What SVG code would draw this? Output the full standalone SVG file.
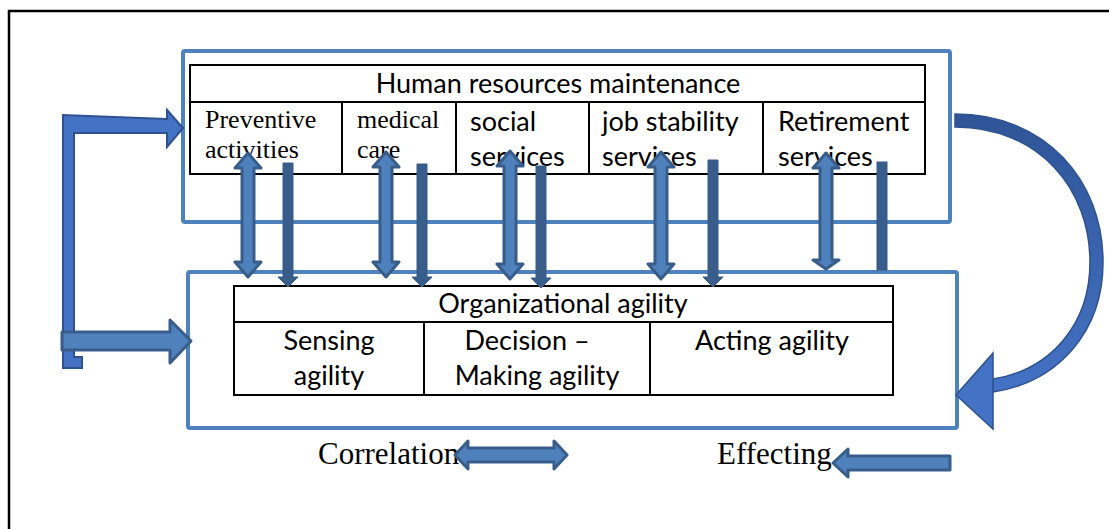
<svg xmlns="http://www.w3.org/2000/svg" width="1109" height="529" viewBox="0 0 1109 529">
<defs>
<linearGradient id="curveGrad" x1="0" y1="0" x2="0" y2="1">
<stop offset="0" stop-color="#2F5597"/>
<stop offset="1" stop-color="#4472C4"/>
</linearGradient>
<style>
.frame{fill:none;stroke:#000;stroke-width:2.5}
.bluebox{fill:#fff;stroke:#4F81BD;stroke-width:4}
.tbl{fill:#fff;stroke:#000;stroke-width:2}
.tline{stroke:#000;stroke-width:2}
.sans{font-family:Lato,"Liberation Sans",sans-serif;font-size:27px;fill:#000}
.serif{font-family:"Liberation Serif","Times New Roman",serif;font-size:26px;fill:#000}
.serifL{font-family:"Liberation Serif","Times New Roman",serif;font-size:31px;fill:#000}
.dbl{fill:#4F81BD;stroke:#385D8A;stroke-width:3;stroke-linejoin:round}
.sgl{fill:#385D8A;stroke:#385D8A;stroke-width:1}
.bent{fill:#4472C4;stroke:#2F528F;stroke-width:2;stroke-linejoin:miter}
.blk{fill:#4F81BD;stroke:#385D8A;stroke-width:3;stroke-linejoin:round}
.curve{fill:url(#curveGrad);stroke:#2F528F;stroke-width:1.5}
.head{fill:#4472C4;stroke:#2F528F;stroke-width:1.5}
</style>
</defs>
<rect class="frame" x="9" y="11" width="1120" height="540"/>

<g id="hr-maintenance">
<rect class="bluebox" x="183" y="51" width="767" height="171" rx="2"/>
<rect class="tbl" x="190" y="65" width="735" height="109"/>
<line class="tline" x1="190" y1="102" x2="925" y2="102"/>
<line class="tline" x1="342" y1="102" x2="342" y2="174"/>
<line class="tline" x1="456" y1="102" x2="456" y2="174"/>
<line class="tline" x1="589" y1="102" x2="589" y2="174"/>
<line class="tline" x1="763" y1="102" x2="763" y2="174"/>
<text class="sans" x="558" y="93" text-anchor="middle">Human resources maintenance</text>
<text class="serif" x="205" y="128">Preventive</text>
<text class="serif" x="205" y="158">activities</text>
<text class="serif" x="357" y="128">medical</text>
<text class="serif" x="357" y="158">care</text>
<text class="sans" x="470" y="131">social</text>
<text class="sans" x="470" y="166">services</text>
<text class="sans" x="602" y="131">job stability</text>
<text class="sans" x="602" y="166">services</text>
<text class="sans" x="778" y="131">Retirement</text>
<text class="sans" x="778" y="166">services</text>
</g>

<g id="org-agility">
<rect class="bluebox" x="188" y="272" width="769" height="156" rx="2"/>
<rect class="tbl" x="234" y="286" width="659" height="109"/>
<line class="tline" x1="234" y1="322" x2="893" y2="322"/>
<line class="tline" x1="424" y1="322" x2="424" y2="395"/>
<line class="tline" x1="650" y1="322" x2="650" y2="395"/>
<text class="sans" x="563" y="313" text-anchor="middle">Organizational agility</text>
<text class="sans" x="329" y="350" text-anchor="middle">Sensing</text>
<text class="sans" x="329" y="385" text-anchor="middle">agility</text>
<text class="sans" x="527" y="350" text-anchor="middle">Decision –</text>
<text class="sans" x="537" y="385" text-anchor="middle">Making agility</text>
<text class="sans" x="772" y="350" text-anchor="middle">Acting agility</text>
</g>

<g id="legend">
<text class="serifL" x="318" y="464">Correlation</text>
<text class="serifL" x="717" y="464">Effecting</text>
</g>

<g id="connectors">
<!-- double-headed vertical arrows -->
<polygon class="dbl" points="248,153 261,168 254,168 254,262 261,262 248,277 235,262 242,262 242,168 235,168"/>
<polygon class="dbl" points="386,152 399,167 392,167 392,262 399,262 386,277 373,262 380,262 380,167 373,167"/>
<polygon class="dbl" points="510,151 523,166 516,166 516,264 523,264 510,279 497,264 504,264 504,166 497,166"/>
<polygon class="dbl" points="661,152 674,167 667,167 667,264 674,264 661,279 648,264 655,264 655,167 648,167"/>
<polygon class="dbl" points="826,153 839,168 832,168 832,260 839,260 826,269 813,260 820,260 820,168 813,168"/>
<!-- single down arrows -->
<polygon class="sgl" points="283,163 293,163 293,277 298,277 288,287 278,277 283,277"/>
<polygon class="sgl" points="417,164 427,164 427,277 432,277 422,287 412,277 417,277"/>
<polygon class="sgl" points="536,166 546,166 546,278 551,278 541,288 531,278 536,278"/>
<polygon class="sgl" points="708,160 718,160 718,277 723,277 713,287 703,277 708,277"/>
<rect class="sgl" x="877" y="162" width="10" height="108"/>
<!-- left bent arrow -->
<polygon class="bent" points="63,368 82,368 82,357 74,357 74,133 167,133 167,147 183,128 167,110 167,119 63,115"/>
<!-- left lower horizontal arrow -->
<polygon class="blk" points="62,332 170,332 170,320 191,341 170,363 170,350 62,350"/>
<!-- curved arrow on right -->
<path class="curve" d="M955,114 C1045,114 1103,180 1103,262 C1103,332 1058,382 993,392 L993,379 C1050,370 1090,325 1090,262 C1090,190 1040,127 955,127 Z"/>
<polygon class="head" points="993,353 956,395 993,429"/>
<!-- legend arrows -->
<polygon class="blk" points="455,455 468,441 468,448 554,448 554,441 567,455 554,469 554,462 468,462 468,469"/>
<polygon class="blk" points="833,463 848,449 848,456 950,456 950,470 848,470 848,477"/>
</g>
</svg>
